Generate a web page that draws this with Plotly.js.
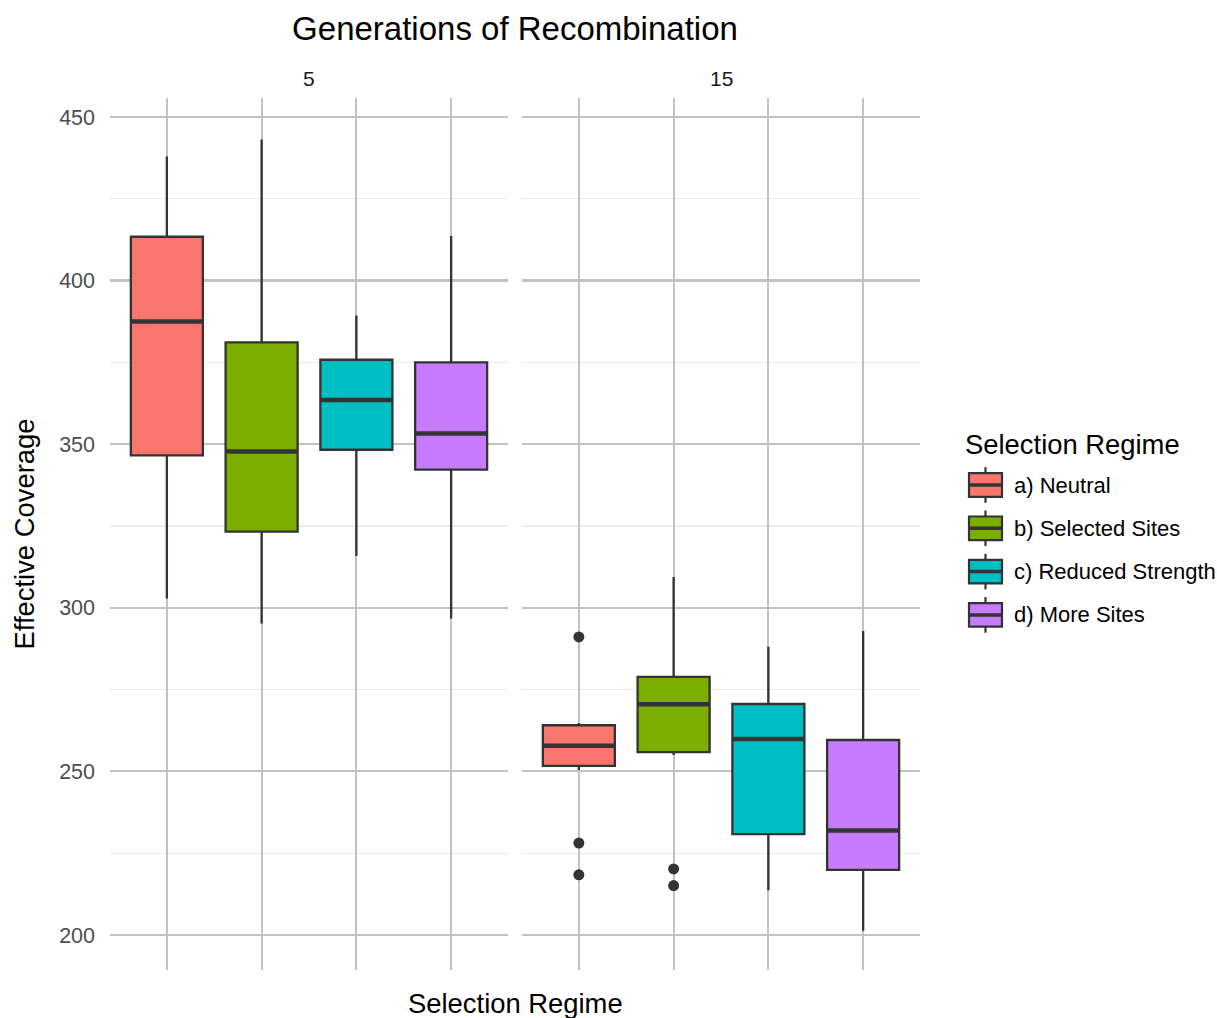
<!DOCTYPE html>
<html>
<head>
<meta charset="utf-8">
<script src="https://cdn.plot.ly/plotly-3.0.1.min.js"></script>
<style>html,body{margin:0;padding:0;background:#fff;}#chart{width:1217px;height:1018px;}</style>
</head>
<body>
<div id="chart"></div>
<script>
// ---- data ----
const regimes = ['a) Neutral', 'b) Selected Sites', 'c) Reduced Strength', 'd) More Sites'];
const colors = ['#F8766D', '#7CAE00', '#00BFC4', '#C77CFF'];
const generations = ['5', '15'];
const yTicks = [200, 250, 300, 350, 400, 450];
const yMinor = [225, 275, 325, 375, 425];

const gen5_lower  = [302.8, 295.2, 315.8, 296.7];
const gen5_q1     = [346.6, 323.3, 348.3, 342.2];
const gen5_median = [387.5, 347.8, 363.5, 353.3];
const gen5_q3     = [413.4, 381.1, 375.8, 375.0];
const gen5_upper  = [437.9, 443.1, 389.3, 413.6];
const gen5_outliers = [[], [], [], []];

const gen15_lower  = [250.4, 255.0, 213.7, 201.3];
const gen15_q1     = [251.7, 255.9, 230.8, 219.9];
const gen15_median = [257.8, 270.5, 259.9, 231.9];
const gen15_q3     = [264.1, 278.9, 270.6, 259.6];
const gen15_upper  = [264.8, 309.4, 288.1, 292.9];
const gen15_outliers = [[291.1, 228.1, 218.4], [220.2, 215.1], [], []];

// ---- build ----
const W = 1217, H = 1018;
const M = {l: 110, r: 297, t: 98, b: 48};
const plotW = W - M.l - M.r, plotH = H - M.t - M.b;
const px = v => (v - M.l) / plotW;       // pixel x -> paper
const py = v => (H - M.b - v) / plotH;   // pixel y -> paper

const FONT = 'Liberation Sans, Arial, Helvetica, sans-serif';
const INK = '#333333';
const BOXW = 0.76;
const GRID = '#c2c2c2';

const panels = [
  {lower: gen5_lower, q1: gen5_q1, median: gen5_median, q3: gen5_q3, upper: gen5_upper, out: gen5_outliers, xa: 'x', ya: 'y'},
  {lower: gen15_lower, q1: gen15_q1, median: gen15_median, q3: gen15_q3, upper: gen15_upper, out: gen15_outliers, xa: 'x2', ya: 'y2'}
];

const traces = [];
panels.forEach((p, g) => {
  regimes.forEach((name, i) => {
    traces.push({
      type: 'box', name: name, x: [i],
      q1: [p.q1[i]], median: [p.median[i]], q3: [p.q3[i]],
      lowerfence: [p.lower[i]], upperfence: [p.upper[i]],
      width: BOXW, whiskerwidth: 0, boxpoints: false,
      fillcolor: colors[i], line: {color: INK, width: 2.3},
      xaxis: p.xa, yaxis: p.ya, showlegend: false, hoverinfo: 'y'
    });
    // thicker median (ggplot fatten)
    traces.push({
      type: 'scatter', mode: 'lines',
      x: [i - BOXW / 2, i + BOXW / 2], y: [p.median[i], p.median[i]],
      line: {color: INK, width: 4.5}, xaxis: p.xa, yaxis: p.ya,
      showlegend: false, hoverinfo: 'skip'
    });
    if (p.out[i].length) {
      traces.push({
        type: 'scatter', mode: 'markers',
        x: p.out[i].map(() => i), y: p.out[i],
        marker: {color: INK, size: 11}, xaxis: p.xa, yaxis: p.ya,
        showlegend: false, hoverinfo: 'y'
      });
    }
  });
});

const xCommon = {
  range: [-0.6, 3.6], tickvals: [0, 1, 2, 3], showticklabels: false,
  showgrid: true, gridcolor: GRID, gridwidth: 2.2, zeroline: false,
  ticks: '', showline: false, fixedrange: true
};
const yCommon = {
  range: [189.3, 455.8], tickvals: yTicks, ticktext: yTicks.map(String),
  showgrid: true, gridcolor: GRID, gridwidth: 2.2, zeroline: false,
  ticks: '', showline: false,
  minor: {tickvals: yMinor, showgrid: true, gridcolor: '#ebebeb', gridwidth: 1.1, ticks: ''}
};

const shapes = [];
const annotations = [];

// facet strip labels
generations.forEach((g, k) => {
  annotations.push({
    text: g, xref: k ? 'x2 domain' : 'x domain', x: 0.5, yref: 'paper', y: py(78),
    xanchor: 'center', yanchor: 'middle', showarrow: false,
    font: {family: FONT, size: 21, color: '#1a1a1a'}
  });
});

// x axis title (spans both panels)
annotations.push({
  text: 'Selection Regime', xref: 'paper', x: 0.5, yref: 'paper', y: py(1003),
  xanchor: 'center', yanchor: 'middle', showarrow: false,
  font: {family: FONT, size: 27.4, color: '#000'}
});

// legend (ggplot-style box keys)
annotations.push({
  text: 'Selection Regime', xref: 'paper', x: px(963), yref: 'paper', y: py(444),
  xanchor: 'left', yanchor: 'middle', showarrow: false,
  font: {family: FONT, size: 27.4, color: '#000'}
});
regimes.forEach((name, i) => {
  const cy = 485 + i * 43.3;
  const kx0 = 969, kx1 = 1002, kc = (kx0 + kx1) / 2, hh = 11.8;
  shapes.push({type: 'line', xref: 'paper', yref: 'paper', x0: px(kc), x1: px(kc), y0: py(cy - hh - 6), y1: py(cy - hh), line: {color: INK, width: 2.2}});
  shapes.push({type: 'line', xref: 'paper', yref: 'paper', x0: px(kc), x1: px(kc), y0: py(cy + hh), y1: py(cy + hh + 6), line: {color: INK, width: 2.2}});
  shapes.push({type: 'rect', xref: 'paper', yref: 'paper', x0: px(kx0), x1: px(kx1), y0: py(cy + hh), y1: py(cy - hh), fillcolor: colors[i], line: {color: INK, width: 2.2}});
  shapes.push({type: 'line', xref: 'paper', yref: 'paper', x0: px(kx0), x1: px(kx1), y0: py(cy), y1: py(cy), line: {color: INK, width: 3.5}});
  annotations.push({
    text: name, xref: 'paper', x: px(1012), yref: 'paper', y: py(cy),
    xanchor: 'left', yanchor: 'middle', showarrow: false,
    font: {family: FONT, size: 22, color: '#000'}
  });
});

const layout = {
  width: W, height: H, margin: M,
  paper_bgcolor: '#fff', plot_bgcolor: '#fff',
  font: {family: FONT, color: '#000'},
  title: {text: 'Generations of Recombination', xref: 'paper', x: 0.5, xanchor: 'center',
          yref: 'container', y: 1 - 28 / H, yanchor: 'middle', font: {family: FONT, size: 33, color: '#000'}},
  showlegend: false,
  boxmode: 'overlay',
  xaxis: Object.assign({}, xCommon, {domain: [0, 398 / plotW], anchor: 'y'}),
  xaxis2: Object.assign({}, xCommon, {domain: [412 / plotW, 1], anchor: 'y2'}),
  yaxis: Object.assign({}, yCommon, {
    anchor: 'x', ticklabelstandoff: 14,
    tickfont: {family: FONT, size: 21.5, color: '#4d4d4d'},
    title: {text: 'Effective Coverage', standoff: 16, font: {family: FONT, size: 27.4, color: '#000'}}
  }),
  yaxis2: Object.assign({}, yCommon, {anchor: 'x2', matches: 'y', showticklabels: false}),
  shapes: shapes,
  annotations: annotations
};

Plotly.newPlot('chart', traces, layout, {displayModeBar: false, staticPlot: true});
</script>
</body>
</html>
